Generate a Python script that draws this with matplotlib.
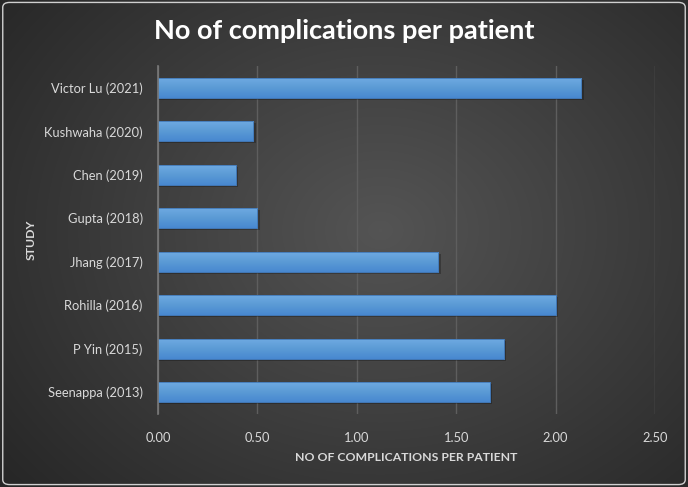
import numpy as np
import matplotlib
matplotlib.use("Agg")
import matplotlib.pyplot as plt
from matplotlib.patches import FancyBboxPatch, Rectangle
from matplotlib.colors import LinearSegmentedColormap

studies = ["Seenappa (2013)", "P Yin (2015)", "Rohilla (2016)", "Jhang (2017)",
           "Gupta (2018)", "Chen (2019)", "Kushwaha (2020)", "Victor Lu (2021)"]
complications = [1.67, 1.74, 2.00, 1.41, 0.50, 0.39, 0.48, 2.13]
xticks = [0.0, 0.5, 1.0, 1.5, 2.0, 2.5]

plt.rcParams['font.family'] = ['Lato', 'DejaVu Sans']

fig = plt.figure(figsize=(6.88, 4.87), dpi=100)

# radial gradient background
bg = fig.add_axes([0, 0, 1, 1], zorder=-2)
yy, xx = np.mgrid[0:487, 0:688]
r = np.sqrt(((xx - 380) / 520.0) ** 2 + ((yy - 230) / 420.0) ** 2)
shade = np.clip(0.33 - 0.19 * r, 0.14, 0.33)
bg.imshow(np.dstack([shade, shade, shade]), aspect='auto', extent=[0, 1, 0, 1])
bg.set_xlim(0, 1)
bg.set_ylim(0, 1)
bg.axis('off')
bg.add_patch(FancyBboxPatch((0.004, 0.005), 0.992, 0.99, boxstyle="round,pad=0,rounding_size=0.01",
                            fill=False, ec='#d0d0d0', lw=1.0, transform=bg.transAxes))

ax = fig.add_axes([0.2297, 0.15, 0.7223, 0.7145])
ax.patch.set_alpha(0)

y = np.arange(len(studies))
h = 0.46
bars = ax.barh(y, complications, height=h, color='#5b9bd5', edgecolor='#4177b5', lw=0.6, zorder=3)

cmap = LinearSegmentedColormap.from_list('bar', ['#4888d0', '#5b9bd5', '#70abe3'])
grad = np.linspace(0, 1, 64).reshape(-1, 1)
for b in bars:
    x0, y0, w, hh = b.get_x(), b.get_y(), b.get_width(), b.get_height()
    # shadow
    ax.add_patch(Rectangle((x0, y0 - 0.05), w + 0.012, hh, color='black', alpha=0.25, lw=0, zorder=2))
    im = ax.imshow(grad, cmap=cmap, aspect='auto', extent=[x0, x0 + w, y0, y0 + hh],
                   origin='lower', zorder=3.5)
    im.set_clip_path(b)
    ax.add_patch(Rectangle((x0, y0), w, hh, fill=False, ec='#4177b5', lw=0.6, zorder=4))

ax.set_xlim(0, 2.5)
ax.set_ylim(-0.5, len(studies) - 0.5)
ax.set_xticks(xticks)
ax.set_xticklabels(["%.2f" % t for t in xticks])
ax.set_yticks(y)
ax.set_yticklabels(studies)
ax.grid(axis='x', color='#5e5e5e', lw=1, zorder=0)
for s in ['top', 'right', 'bottom']:
    ax.spines[s].set_visible(False)
ax.spines['left'].set_color('#7a7a7a')
ax.spines['left'].set_linewidth(1.2)
ax.spines['left'].set_zorder(5)
ax.tick_params(axis='both', length=0, colors='#d9d9d9', labelsize=9.3)
ax.tick_params(axis='x', pad=13)
ax.tick_params(axis='y', pad=11)

ax.set_xlabel("NO OF COMPLICATIONS PER PATIENT", color='#d9d9d9', fontsize=8.8,
              fontweight='bold', labelpad=6)
ax.set_ylabel("STUDY", color='#d9d9d9', fontsize=8.8, fontweight='bold')
ax.yaxis.set_label_coords(-0.244, 0.5)

fig.text(0.5, 0.937, "No of complications per patient", color='white', fontsize=19.5,
         fontweight='bold', ha='center', va='center')

fig.savefig("out.png", dpi=100)
